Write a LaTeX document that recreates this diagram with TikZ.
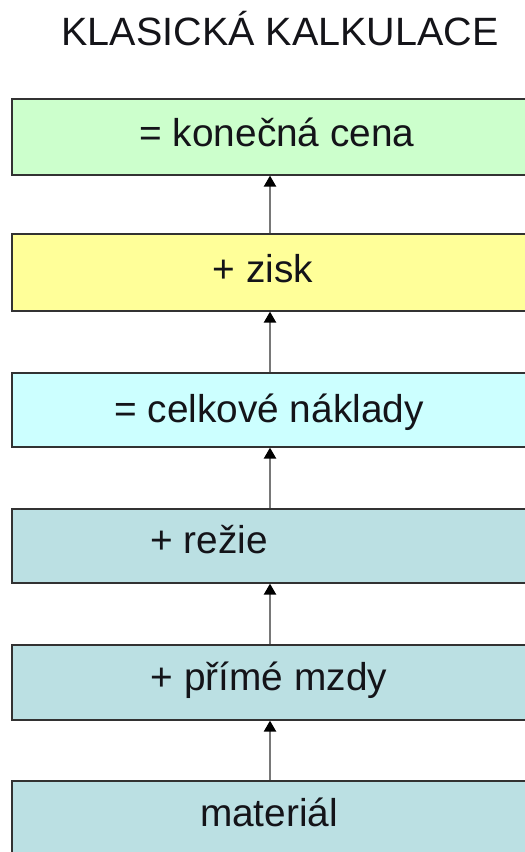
\documentclass[tikz,border=0pt]{standalone}
\usepackage{fontspec}
\setmainfont{Liberation Sans}
\usetikzlibrary{arrows.meta}
\definecolor{cgreen}{RGB}{204,255,204}
\definecolor{cyellow}{RGB}{255,255,153}
\definecolor{ccyan}{RGB}{204,255,255}
\definecolor{cteal}{RGB}{187,224,227}
\definecolor{cborder}{RGB}{50,50,50}
\definecolor{cline}{RGB}{120,120,120}
\definecolor{ctext}{RGB}{20,20,25}
\begin{document}
\begin{tikzpicture}[x=1pt,y=-1pt,
  box/.style={draw=cborder,line width=1.6pt,rectangle,anchor=north west,minimum width=560pt,inner sep=0pt},
  lbl/.style={anchor=base,inner sep=0pt,text=ctext,font=\fontsize{38.8}{46}\selectfont},
  arr/.style={draw=cline,line width=2.2pt,-{Triangle[color=black,width=12pt,length=11pt]}}]
\clip (0,0) rectangle (525,852);
\fill[white] (0,0) rectangle (525,852);
\node[lbl,font=\fontsize{39.5}{46}\selectfont] (title) at (280,45) {KLASICKÁ KALKULACE};
\node[box,fill=cgreen,minimum height=76pt] (b1) at (11,98) {};
\node[box,fill=cyellow,minimum height=77pt] (b2) at (11,233) {};
\node[box,fill=ccyan,minimum height=74pt] (b3) at (11,372) {};
\node[box,fill=cteal,minimum height=74pt] (b4) at (11,508) {};
\node[box,fill=cteal,minimum height=75pt] (b5) at (11,644) {};
\node[box,fill=cteal,minimum height=100pt] (b6) at (11,780) {};
\coordinate (ax) at (270,0);
\node[lbl] (t1) at (277,146) {= konečná cena};
\node[lbl] (t2) at (263,282) {+ zisk};
\node[lbl] (t3) at (269,422) {= celkové náklady};
\node[lbl] (t4) at (209,553) {+ režie};
\node[lbl] (t5) at (269,690) {+ přímé mzdy};
\node[lbl] (t6) at (269,826) {materiál};
\draw[arr] (b2.north -| ax) -- (b1.south -| ax);
\draw[arr] (b3.north -| ax) -- (b2.south -| ax);
\draw[arr] (b4.north -| ax) -- (b3.south -| ax);
\draw[arr] (b5.north -| ax) -- (b4.south -| ax);
\draw[arr] (b6.north -| ax) -- (b5.south -| ax);
\end{tikzpicture}
\end{document}
